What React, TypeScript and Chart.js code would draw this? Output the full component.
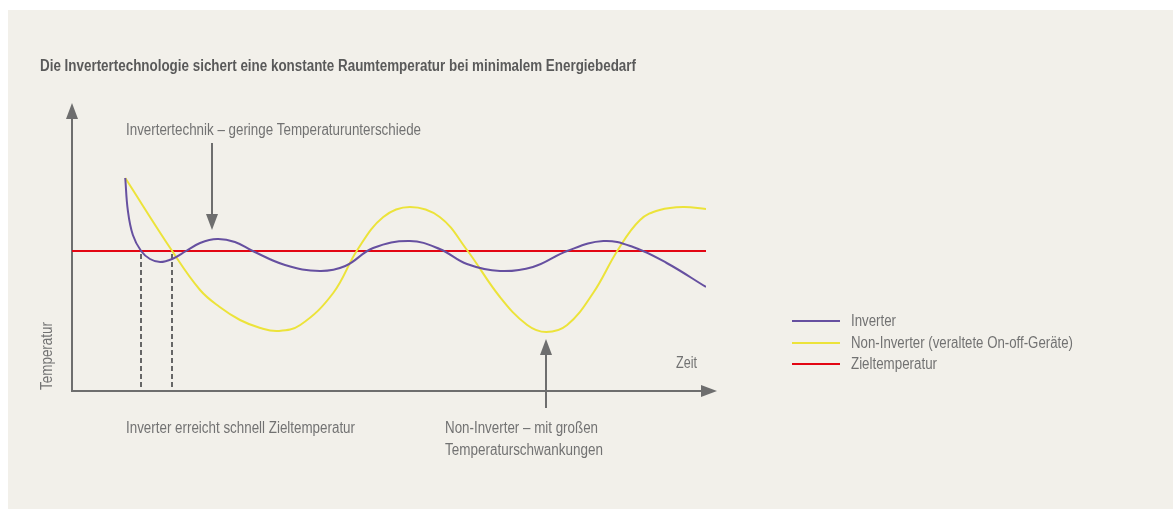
import React, { useEffect, useRef } from "react";
import { Chart, registerables } from "chart.js";

Chart.register(...registerables);

const titleText =
  "Die Invertertechnologie sichert eine konstante Raumtemperatur bei minimalem Energiebedarf";
const seriesLabels = ["Inverter", "Non-Inverter (veraltete On-off-Geräte)", "Zieltemperatur"];
const seriesColors = ["#6650a0", "#ece33a", "#e30613"];

const inverterTime = [8.4, 8.8, 9.6, 10.9, 12.3, 13.9, 15.8, 18.0, 20.2, 22.9, 25.7, 28.5, 33.6, 39.1, 43.1, 47.5, 53.3, 58.0, 62.3, 67.5, 72.7, 78.1, 83.8, 88.5, 93.8, 100];
const inverterTemp = [21.2, 18.0, 15.5, 13.9, 13.1, 12.8, 13.1, 13.9, 14.7, 15.1, 14.8, 13.9, 12.5, 11.9, 12.4, 14.2, 14.9, 14.1, 12.6, 11.9, 12.3, 13.9, 14.9, 14.3, 12.7, 10.3];

const nonInverterTime = [8.4, 15.8, 20.2, 23.3, 26.5, 29.7, 32.5, 36.0, 41.2, 45.0, 49.1, 53.3, 58.0, 62.3, 67.5, 71.8, 74.8, 78.1, 82.2, 86.1, 89.6, 92.7, 96.4, 100];
const nonInverterTemp = [21.2, 13.9, 10.0, 8.3, 7.0, 6.2, 5.9, 6.5, 9.7, 14.0, 17.3, 18.3, 17.3, 14.0, 9.3, 6.5, 5.8, 6.5, 9.7, 14.0, 17.0, 18.0, 18.3, 18.1];

const targetTime = [0, 100];
const targetTemp = [13.9, 13.9];

const reachTimes = [10.9, 15.8];

const yAxisLabel = "Temperatur";
const xAxisLabel = "Zeit";
const noteInverter = "Invertertechnik – geringe Temperaturunterschiede";
const noteReach = "Inverter erreicht schnell Zieltemperatur";
const noteNonInverter = ["Non-Inverter – mit großen", "Temperaturschwankungen"];

// annotation arrows (time, from temp, to temp)
const arrowInverter = [22.1, 24.7, 16.0];
const arrowNonInverter = [74.8, -1.8, 5.1];

const FONT = '"Liberation Sans", Arial, "DejaVu Sans", sans-serif';
const TEXT = "#727272";
const GRAY = "#6e6e6e";

function fitText(
  ctx: CanvasRenderingContext2D,
  text: string,
  x: number,
  y: number,
  width: number,
  font: string,
  color: string,
  rotate = 0
) {
  ctx.save();
  ctx.font = font;
  ctx.fillStyle = color;
  ctx.textBaseline = "alphabetic";
  ctx.textAlign = "left";
  const w = ctx.measureText(text).width;
  ctx.translate(x, y);
  if (rotate) ctx.rotate(rotate);
  ctx.scale(width / w, 1);
  ctx.fillText(text, 0, 0);
  ctx.restore();
}

function arrowHead(ctx: CanvasRenderingContext2D, tx: number, ty: number, dir: "up" | "down" | "right") {
  ctx.beginPath();
  if (dir === "up") {
    ctx.moveTo(tx, ty);
    ctx.lineTo(tx - 6, ty + 16);
    ctx.lineTo(tx + 6, ty + 16);
  } else if (dir === "down") {
    ctx.moveTo(tx, ty);
    ctx.lineTo(tx - 6, ty - 16);
    ctx.lineTo(tx + 6, ty - 16);
  } else {
    ctx.moveTo(tx, ty);
    ctx.lineTo(tx - 16, ty - 6);
    ctx.lineTo(tx - 16, ty + 6);
  }
  ctx.closePath();
  ctx.fill();
}

const decorPlugin = {
  id: "decor",
  beforeDraw(chart: any) {
    const ctx: CanvasRenderingContext2D = chart.ctx;
    ctx.save();
    ctx.fillStyle = "#ffffff";
    ctx.fillRect(0, 0, chart.width, chart.height);
    ctx.fillStyle = "#f2f0ea";
    ctx.fillRect(8, 10, chart.width - 9, chart.height - 11);

    const area = chart.chartArea;
    const xs = chart.scales.x;
    const ys = chart.scales.y;
    const left = Math.round(area.left);
    const bottom = Math.round(area.bottom) + 1;

    ctx.strokeStyle = GRAY;
    ctx.fillStyle = GRAY;
    ctx.lineWidth = 2;
    // y axis
    ctx.beginPath();
    ctx.moveTo(left, bottom + 1);
    ctx.lineTo(left, area.top + 12);
    ctx.stroke();
    arrowHead(ctx, left, area.top + 3, "up");
    // x axis
    ctx.beginPath();
    ctx.moveTo(left - 1, bottom);
    ctx.lineTo(area.right + 2, bottom);
    ctx.stroke();
    arrowHead(ctx, area.right + 11, bottom, "right");

    // dashed reach lines
    ctx.save();
    ctx.strokeStyle = "#666666";
    ctx.lineWidth = 2;
    ctx.setLineDash([5, 3]);
    const ty = ys.getPixelForValue(targetTemp[0]);
    reachTimes.forEach((t) => {
      const px = Math.round(xs.getPixelForValue(t));
      ctx.beginPath();
      ctx.moveTo(px, ty + 3);
      ctx.lineTo(px, bottom - 1);
      ctx.stroke();
    });
    ctx.restore();
    ctx.restore();
  },
  afterDraw(chart: any) {
    const ctx: CanvasRenderingContext2D = chart.ctx;
    const xs = chart.scales.x;
    const ys = chart.scales.y;
    ctx.save();
    ctx.strokeStyle = GRAY;
    ctx.fillStyle = GRAY;
    ctx.lineWidth = 2;

    // inverter annotation arrow (down)
    {
      const x = Math.round(xs.getPixelForValue(arrowInverter[0]));
      const y0 = ys.getPixelForValue(arrowInverter[1]);
      const y1 = ys.getPixelForValue(arrowInverter[2]);
      ctx.beginPath();
      ctx.moveTo(x, y0);
      ctx.lineTo(x, y1 - 12);
      ctx.stroke();
      arrowHead(ctx, x, y1, "down");
    }
    // non-inverter annotation arrow (up)
    {
      const x = Math.round(xs.getPixelForValue(arrowNonInverter[0]));
      const y0 = ys.getPixelForValue(arrowNonInverter[1]);
      const y1 = ys.getPixelForValue(arrowNonInverter[2]);
      ctx.beginPath();
      ctx.moveTo(x, y0);
      ctx.lineTo(x, y1 + 12);
      ctx.stroke();
      arrowHead(ctx, x, y1, "up");
    }
    ctx.restore();

    // texts
    fitText(ctx, titleText, 40, 71, 596, `bold 16px ${FONT}`, "#5a5a5a");
    fitText(ctx, noteInverter, 126, 135, 295, `16px ${FONT}`, TEXT);
    fitText(ctx, noteReach, 126, 433, 229, `16px ${FONT}`, TEXT);
    fitText(ctx, noteNonInverter[0], 445, 433, 153, `16px ${FONT}`, TEXT);
    fitText(ctx, noteNonInverter[1], 445, 455, 158, `16px ${FONT}`, TEXT);
    fitText(ctx, xAxisLabel, 676, 368, 21, `16px ${FONT}`, TEXT);
    fitText(ctx, yAxisLabel, 52, 390, 68, `16px ${FONT}`, TEXT, -Math.PI / 2);

    // legend
    const legendY = [321, 343, 364];
    const legendW = [45, 222, 86];
    seriesLabels.forEach((label, i) => {
      ctx.save();
      ctx.strokeStyle = seriesColors[i];
      ctx.lineWidth = 2;
      ctx.beginPath();
      ctx.moveTo(792, legendY[i]);
      ctx.lineTo(840, legendY[i]);
      ctx.stroke();
      ctx.restore();
      fitText(ctx, label, 851, legendY[i] + 5, legendW[i], `16px ${FONT}`, TEXT);
    });
  },
};

export default function App() {
  const ref = useRef<HTMLCanvasElement | null>(null);

  useEffect(() => {
    if (!ref.current) return;
    const toPts = (xs: number[], ys: number[]) => xs.map((x, i) => ({ x, y: ys[i] }));
    const chart = new Chart(ref.current, {
      type: "line",
      data: {
        datasets: [
          {
            label: seriesLabels[0],
            data: toPts(inverterTime, inverterTemp),
            borderColor: seriesColors[0],
            borderWidth: 2,
            tension: 0.4,
            pointRadius: 0,
            fill: false,
            order: 1,
          },
          {
            label: seriesLabels[1],
            data: toPts(nonInverterTime, nonInverterTemp),
            borderColor: seriesColors[1],
            borderWidth: 2,
            tension: 0.4,
            pointRadius: 0,
            fill: false,
            order: 2,
          },
          {
            label: seriesLabels[2],
            data: toPts(targetTime, targetTemp),
            borderColor: seriesColors[2],
            borderWidth: 2,
            pointRadius: 0,
            fill: false,
            order: 3,
          },
        ],
      },
      options: {
        responsive: false,
        animation: false,
        devicePixelRatio: 1,
        layout: { padding: { left: 72, right: 468, top: 100, bottom: 120 } },
        scales: {
          x: { type: "linear", min: 0, max: 100, display: false },
          y: { type: "linear", min: 0, max: 29, display: false },
        },
        plugins: {
          legend: { display: false },
          tooltip: { enabled: false },
          title: { display: false },
        },
        events: [],
      },
      plugins: [decorPlugin],
    } as any);
    return () => chart.destroy();
  }, []);

  return (
    <div style={{ position: "absolute", left: 0, top: 0, width: 1174, height: 510 }}>
      <canvas ref={ref} width={1174} height={510} style={{ display: "block", width: 1174, height: 510 }} />
    </div>
  );
}
